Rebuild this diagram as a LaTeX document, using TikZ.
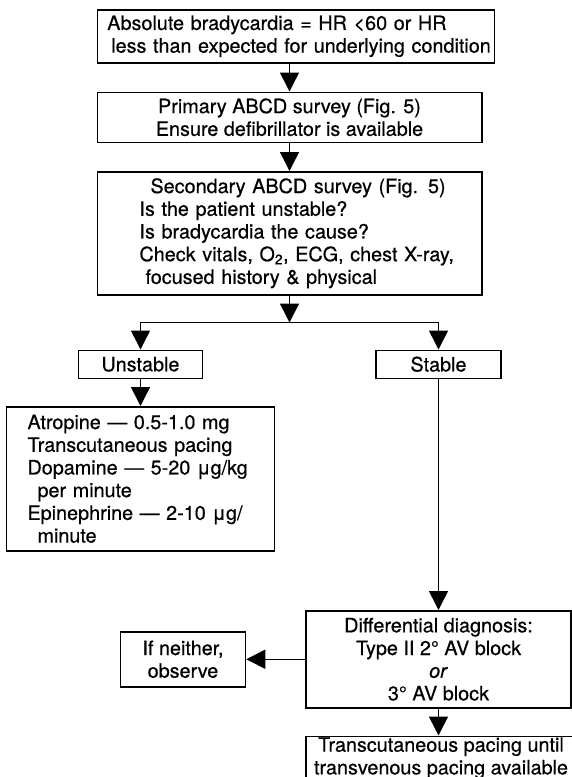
\documentclass[tikz,border=0pt]{standalone}
\usepackage{fontspec}
\setmainfont{TeX Gyre Heros}[FakeBold=0.5]
\usetikzlibrary{arrows.meta, positioning}
\tikzstyle{process} = [rectangle, draw=black, line width=1.5pt, align=center,
                       inner sep=0pt, font=\fontsize{19.8}{22.7}\selectfont]
\tikzstyle{arrow}   = [-{Triangle[length=19pt, width=19pt]}, line width=1.5pt]

\begin{document}
\begin{tikzpicture}[x=1pt, y=-1pt]
  \useasboundingbox (0,0) rectangle (571,777);

  \node (brady) [process, anchor=north west, minimum width=397pt, minimum height=53pt,
                 text width=377pt, align=left] at (96.5,9)
        {Absolute bradycardia = HR <60 or HR\\\mbox{\hspace*{4pt}less than expected for underlying condition}};
  \node (primary) [process, below=28pt of brady.south west, anchor=north west,
                   minimum width=384.5pt, minimum height=50pt]
        {Primary ABCD survey (Fig. 5)\\Ensure defibrillator is available};
  \node (secondary) [process, below=28pt of primary.south west, anchor=north west,
                     minimum width=384.5pt, minimum height=123pt, text width=300pt, align=left]
        {\mbox{\hspace*{11pt}Secondary ABCD survey (Fig. 5)}\\Is the patient unstable?\\Is bradycardia the cause?\\
         \mbox{Check vitals, O\textsubscript{2}, ECG, chest X-ray,}\\\hspace*{6pt}focused history \& physical};
  \coordinate [below=27pt of secondary] (split);

  % Branches
  \node (unstable) [process, below=54pt of secondary.south west, xshift=44pt,
                    minimum width=124pt, minimum height=28pt] {Unstable};
  \node (stable) [process, right=172pt of unstable, minimum width=125pt, minimum height=28pt] {Stable};
  \node (drugs) [process, below=27pt of unstable, minimum width=268pt, minimum height=144pt,
                 text width=226pt, align=left]
        {Atropine — 0.5-1.0 mg\\Transcutaneous pacing\\Dopamine — 5-20 μg/kg\\\hspace*{10pt}per minute\\
         Epinephrine — 2-10 μg/\\\hspace*{10pt}minute};
  \node (diagnosis) [process, below=231pt of stable, minimum width=265pt, minimum height=97pt]
        {Differential diagnosis:\\Type II 2° AV block\\\textit{or}\\3° AV block};
  \node (neither) [process, left=59pt of diagnosis, minimum width=125pt, minimum height=55pt]
        {If neither,\\observe};
  \node (pacing) [process, below=27pt of diagnosis.south west, anchor=north west,
                  minimum width=270pt, minimum height=41pt, inner ysep=1pt]
        {Transcutaneous pacing until\\transvenous pacing available};

  \draw [arrow] (brady.south -| primary.north) -- (primary.north);
  \draw [arrow] (primary) -- (secondary);
  \draw [arrow] (secondary) -- (split);
  \draw [arrow] (split) -| (unstable);
  \draw [arrow] (split) -| (stable);
  \draw [arrow] (unstable) -- (drugs);
  \draw [arrow] (stable) -- (diagnosis);
  \draw [arrow] (diagnosis) -- (neither);
  \draw [arrow] (diagnosis) -- (diagnosis |- pacing.north);
\end{tikzpicture}
\end{document}
